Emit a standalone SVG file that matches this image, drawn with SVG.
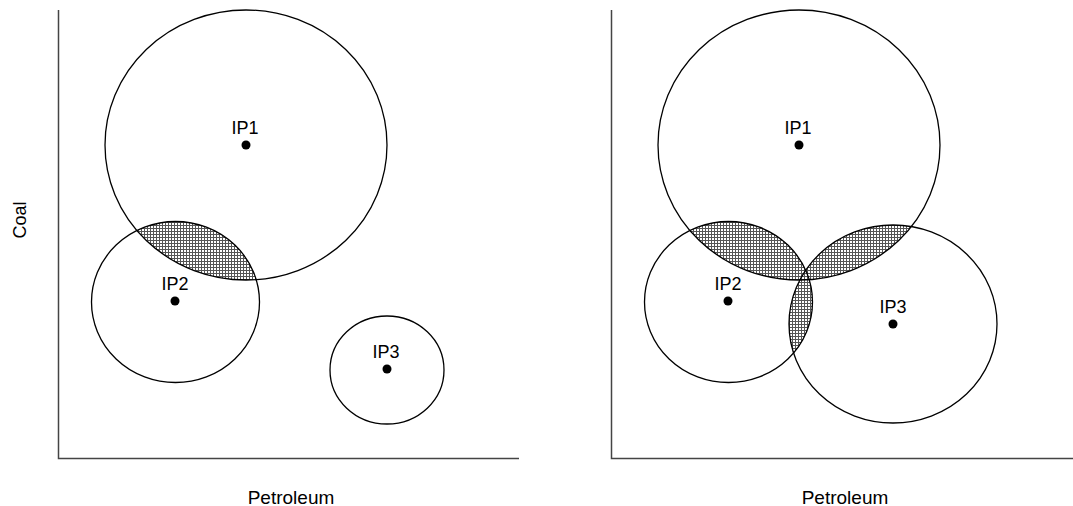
<svg xmlns="http://www.w3.org/2000/svg" width="1073" height="506" viewBox="0 0 1073 506">
<style>
.axis{stroke:#444;stroke-width:1.5;fill:none}
.c{fill:none;stroke:#000;stroke-width:1.3}
.sh{fill:url(#dots);stroke:none}
.dot{fill:#000}
.lbl{font-family:"Liberation Sans",Arial,sans-serif;font-size:18px;fill:#000;text-anchor:middle}
.ax{font-family:"Liberation Sans",Arial,sans-serif;font-size:19px;fill:#000;text-anchor:middle}
</style>
<defs>
<pattern id="dots" width="3" height="3" patternUnits="userSpaceOnUse">
<rect width="3" height="3" fill="#fff"/>
<rect width="3" height="1" fill="#555"/>
<rect width="1" height="3" fill="#555"/>
</pattern>
<clipPath id="L1"><ellipse cx="246" cy="145" rx="141" ry="135"/></clipPath>
<clipPath id="R1"><ellipse cx="799" cy="145" rx="141" ry="135"/></clipPath>
<clipPath id="R2"><ellipse cx="728.5" cy="302" rx="84" ry="80.5"/></clipPath>
</defs>
<rect width="1073" height="506" fill="#fff"/>
<g id="shading">
<ellipse class="sh" cx="175.5" cy="302" rx="84" ry="80.5" clip-path="url(#L1)"/>
<ellipse class="sh" cx="728.5" cy="302" rx="84" ry="80.5" clip-path="url(#R1)"/>
<ellipse class="sh" cx="893" cy="324" rx="104" ry="99" clip-path="url(#R1)"/>
<ellipse class="sh" cx="893" cy="324" rx="104" ry="99" clip-path="url(#R2)"/>
</g>
<g id="axes">
<path class="axis" d="M58.5,10 V458.5 H519"/>
<path class="axis" d="M611.5,10 V458.5 H1073"/>
</g>
<g id="left-IP1"><ellipse class="c" cx="246" cy="145" rx="141" ry="135"/><circle class="dot" cx="246" cy="145" r="4.5"/><text class="lbl" x="245" y="134">IP1</text></g>
<g id="left-IP2"><ellipse class="c" cx="175.5" cy="302" rx="84" ry="80.5"/><circle class="dot" cx="175" cy="301" r="4.5"/><text class="lbl" x="175" y="290">IP2</text></g>
<g id="left-IP3"><ellipse class="c" cx="387" cy="370" rx="57" ry="54"/><circle class="dot" cx="387" cy="369" r="4.5"/><text class="lbl" x="386" y="358">IP3</text></g>
<g id="right-IP1"><ellipse class="c" cx="799" cy="145" rx="141" ry="135"/><circle class="dot" cx="799" cy="145" r="4.5"/><text class="lbl" x="798" y="134">IP1</text></g>
<g id="right-IP2"><ellipse class="c" cx="728.5" cy="302" rx="84" ry="80.5"/><circle class="dot" cx="728" cy="301" r="4.5"/><text class="lbl" x="728" y="290">IP2</text></g>
<g id="right-IP3"><ellipse class="c" cx="893" cy="324" rx="104" ry="99"/><circle class="dot" cx="893" cy="324" r="4.5"/><text class="lbl" x="893" y="313">IP3</text></g>
<g id="labels">
<text class="ax" x="291" y="504">Petroleum</text>
<text class="ax" x="845" y="504">Petroleum</text>
<text class="lbl" transform="translate(26,220) rotate(-90)">Coal</text>
</g>
</svg>
